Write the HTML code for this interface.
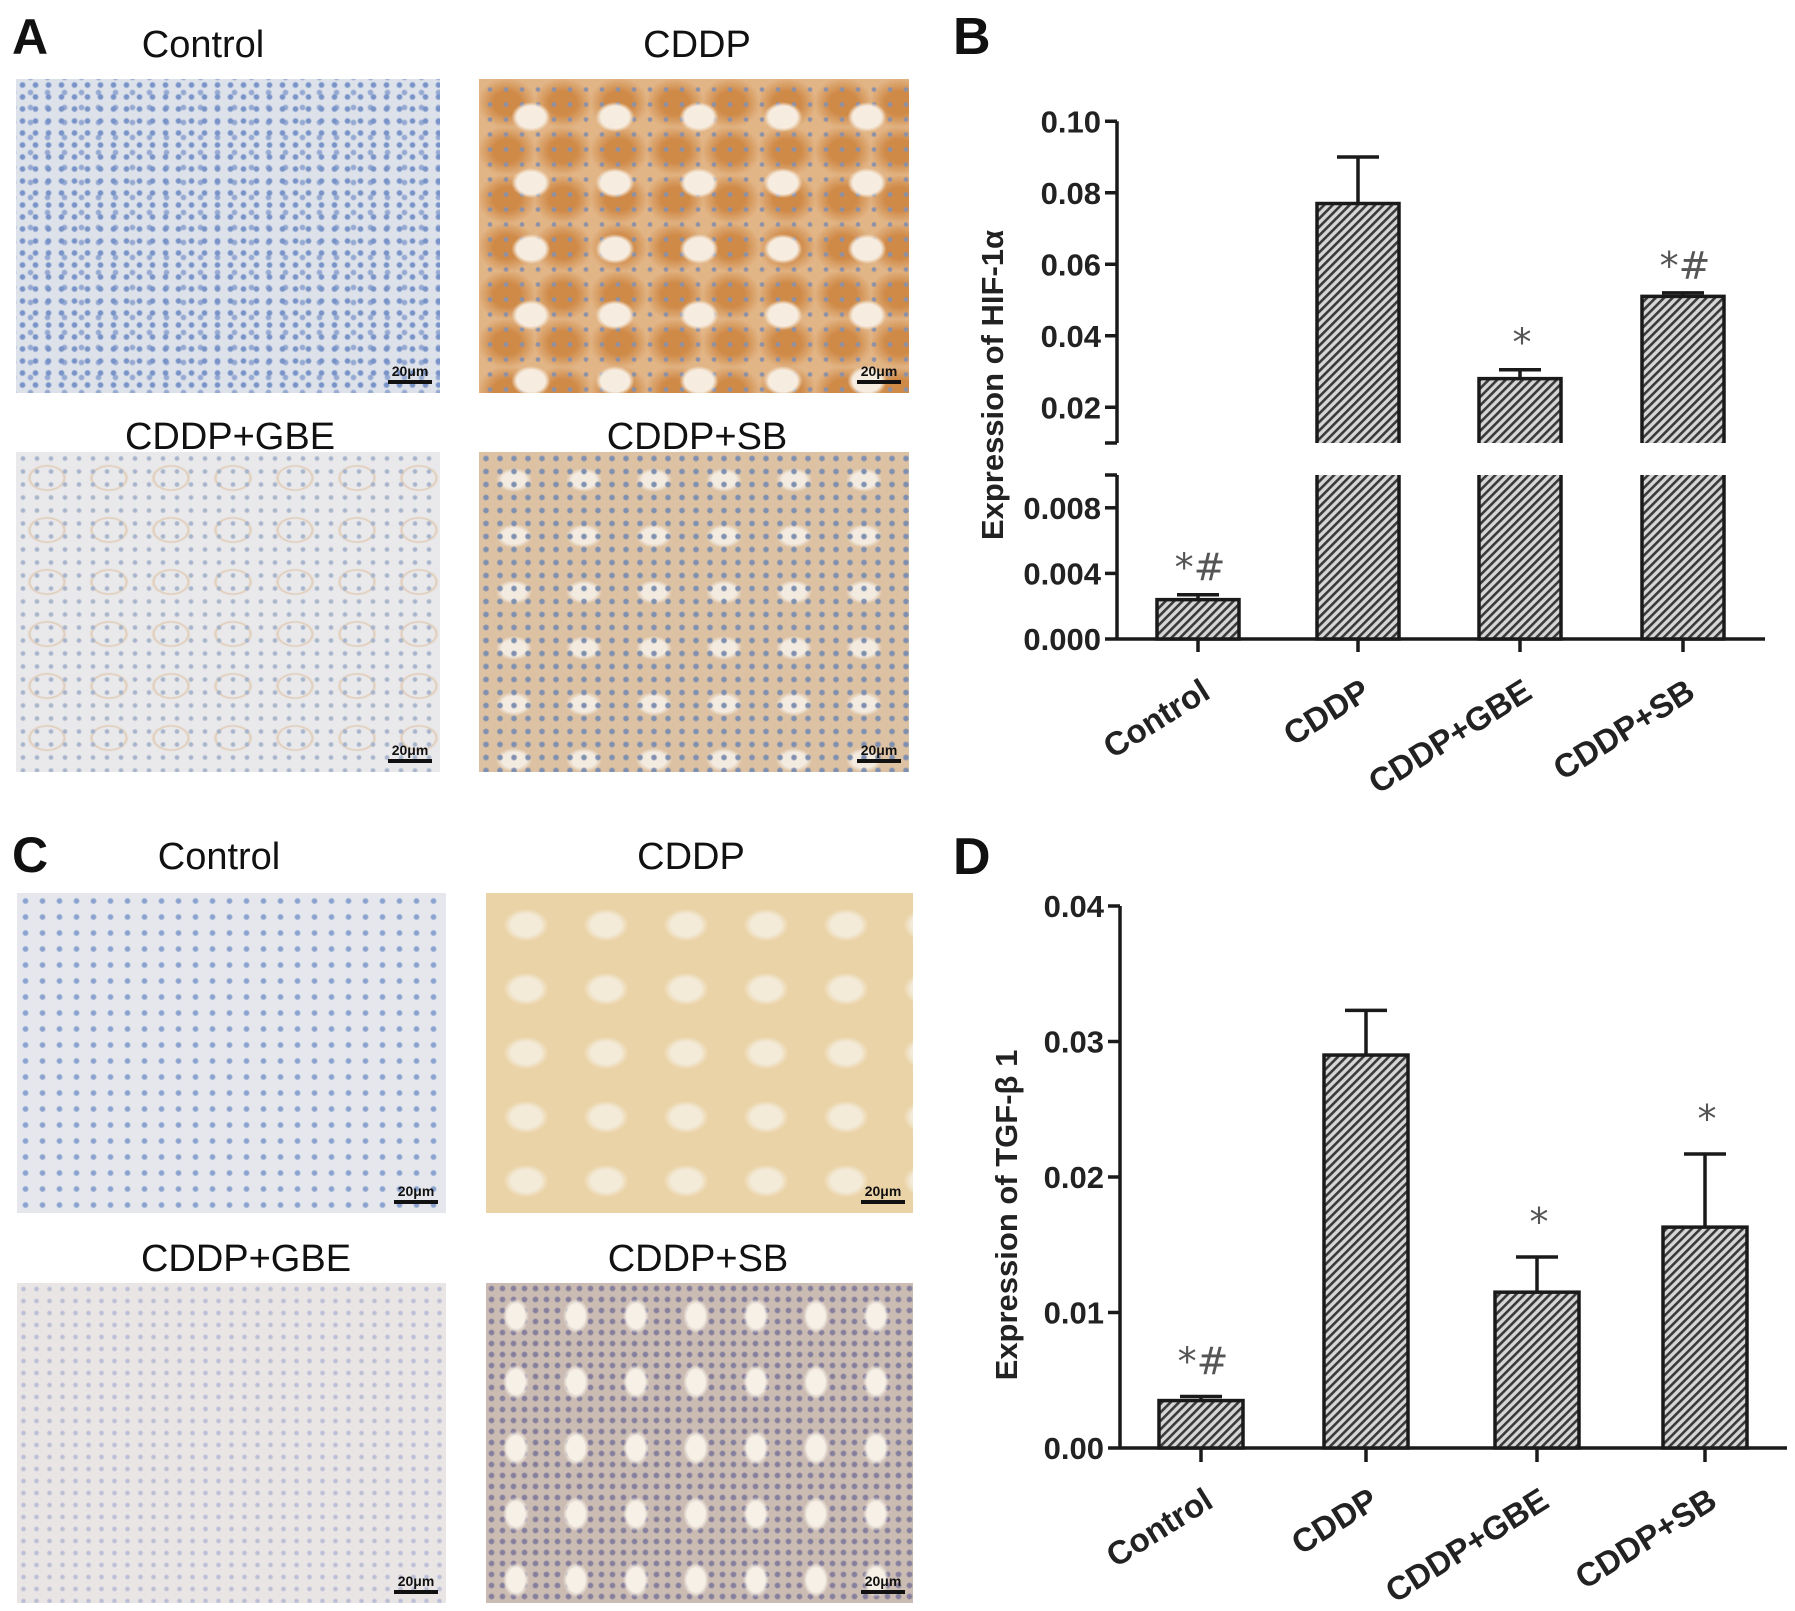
<!DOCTYPE html>
<html><head><meta charset="utf-8">
<style>
html,body{margin:0;padding:0;background:#fff;}
body{width:1795px;height:1611px;position:relative;overflow:hidden;font-family:"Liberation Sans",Arial,sans-serif;}
.lbl{position:absolute;font-weight:bold;font-size:50px;line-height:1;color:#111;}
.ttl{position:absolute;font-size:38px;line-height:1;color:#111;transform:translateX(-50%);white-space:nowrap;}
.img{position:absolute;overflow:hidden;}
.sb{position:absolute;right:8px;bottom:9px;width:44px;font-size:14px;font-weight:bold;color:#111;text-align:center;line-height:1;}
.sb:after{content:"";display:block;height:4px;background:#111;margin-top:2px;}
svg{position:absolute;left:0;top:0;}
</style></head>
<body>
<div class="lbl" style="left:12px;top:12px;">A</div>
<div class="ttl" style="left:203px;top:26px;">Control</div>
<div class="ttl" style="left:697px;top:26px;">CDDP</div>
<div class="ttl" style="left:230px;top:418px;">CDDP+GBE</div>
<div class="ttl" style="left:697px;top:418px;">CDDP+SB</div>

<div class="img" style="left:16px;top:79px;width:424px;height:314px;background:radial-gradient(circle,#7893c8 0 2px,transparent 3.5px) 0 0/13px 12px,radial-gradient(circle,#95a9d2 0 2px,transparent 3.5px) 6px 6px/17px 15px,#dde1ea;"><div class="sb">20μm</div></div>
<div class="img" style="left:479px;top:79px;width:430px;height:314px;background:radial-gradient(ellipse 26px 20px,#f6ecdf 0 55%,transparent 75%) 10px 5px/84px 66px,radial-gradient(circle,#8a90a8 0 1.5px,transparent 3px) 3px 3px/16px 15px,radial-gradient(ellipse,#cf8a48 0 35%,#e2b586 75%) 0 0/56px 48px,#dba574;"><div class="sb">20μm</div></div>
<div class="img" style="left:16px;top:452px;width:424px;height:320px;background:radial-gradient(circle,#a6b4cc 0 1.5px,transparent 3px) 0 0/14px 13px,radial-gradient(ellipse 26px 18px,transparent 0 60%,#e0cbb5 66%,transparent 76%) 0 0/62px 52px,#e9e8ea;"><div class="sb">20μm</div></div>
<div class="img" style="left:479px;top:452px;width:430px;height:320px;background:radial-gradient(circle,#7e8fb0 0 2px,transparent 3.5px) 0 0/14px 13px,radial-gradient(ellipse 24px 16px,#f3ebe0 0 50%,transparent 75%) 0 0/70px 56px,#dcc1a3;"><div class="sb">20μm</div></div>

<div class="lbl" style="left:12px;top:830px;">C</div>
<div class="ttl" style="left:219px;top:838px;">Control</div>
<div class="ttl" style="left:691px;top:838px;">CDDP</div>
<div class="ttl" style="left:246px;top:1240px;">CDDP+GBE</div>
<div class="ttl" style="left:698px;top:1240px;">CDDP+SB</div>

<div class="img" style="left:17px;top:893px;width:429px;height:320px;background:radial-gradient(circle,#8aa2cf 0 2px,transparent 3.5px) 0 0/17px 16px,#e5e7ec;"><div class="sb">20μm</div></div>
<div class="img" style="left:486px;top:893px;width:427px;height:320px;background:radial-gradient(ellipse 30px 22px,#f3ead8 0 50%,transparent 75%) 0 0/80px 64px,#ead3a6;"><div class="sb">20μm</div></div>
<div class="img" style="left:17px;top:1283px;width:429px;height:320px;background:radial-gradient(circle,#bcbed6 0 1.5px,transparent 3px) 0 0/13px 12px,#e8e5e4;"><div class="sb">20μm</div></div>
<div class="img" style="left:486px;top:1283px;width:427px;height:320px;background:radial-gradient(ellipse 18px 24px,#f6f0e6 0 50%,transparent 72%) 0 0/60px 66px,radial-gradient(circle,#857e9c 0 2px,transparent 3.5px) 0 0/11px 11px,#cbbcb3;"><div class="sb">20μm</div></div>

<div class="lbl" style="left:953px;top:11px;font-size:52px;">B</div>
<div class="lbl" style="left:953px;top:831px;font-size:52px;">D</div>

<svg id="chart" width="1795" height="1611" viewBox="0 0 1795 1611">
<defs>
<pattern id="hatch" patternUnits="userSpaceOnUse" width="6" height="6" patternTransform="rotate(45)">
<rect width="6" height="6" fill="#d6d6d6"/><rect width="2.6" height="6" fill="#3a3a3a"/>
</pattern>
</defs>
</svg>
<script>
const categories = ["Control","CDDP","CDDP+GBE","CDDP+SB"];
const hifValues = [0.0024, 0.077, 0.028, 0.051];
const hifErrors = [0.0003, 0.013, 0.0025, 0.001];
const hifMarks = ["*#", "", "*", "*#"];
const hifUpperTicks = ["0.02","0.04","0.06","0.08","0.10"];
const hifLowerTicks = ["0.000","0.004","0.008"];
const tgfValues = [0.0035, 0.029, 0.0115, 0.0163];
const tgfErrors = [0.0003, 0.0033, 0.0026, 0.0054];
const tgfMarks = ["*#", "", "*", "*"];
const tgfTicks = ["0.00","0.01","0.02","0.03","0.04"];

const svg = document.getElementById('chart');
const NS = 'http://www.w3.org/2000/svg';
function mk(tag, attrs, parent){const e=document.createElementNS(NS,tag);for(const k in attrs)e.setAttribute(k,attrs[k]);(parent||svg).appendChild(e);return e;}
const TICKFS = 31, XFS = 33, TITLEFS = 31;

// ---------- Chart B (broken axis) ----------
const bAxisX = 1117, bBase = 639, bEnd = 1765;
const bCenters = [1198, 1358, 1520, 1683], bW = 82;
function yLowB(v){ return bBase - v*16400; }
function yUpB(v){ return 443 - (v-0.01)*3575; }
function yB(v){ return v <= 0.01 ? yLowB(v) : yUpB(v); }
const gB = mk('g',{});


let ax = mk('path',{d:`M${bAxisX} ${yUpB(0.10)} V443 M${bAxisX} 475 V${bBase} M${bAxisX-12} 443 H${bAxisX} M${bAxisX-12} 475 H${bAxisX}`,stroke:'#1a1a1a','stroke-width':3.5,fill:'none'},gB);


let xa = mk('line',{x1:bAxisX,y1:bBase,x2:bEnd,y2:bBase,stroke:'#1a1a1a','stroke-width':3.5},gB);


hifUpperTicks.forEach(t=>{const y=yUpB(parseFloat(t));
  mk('line',{x1:bAxisX-12,y1:y,x2:bAxisX,y2:y,stroke:'#1a1a1a','stroke-width':3.5},gB);
  const tx=mk('text',{x:bAxisX-16,y:y+11,'text-anchor':'end','font-size':TICKFS,'font-weight':'bold',fill:'#222'},gB);tx.textContent=t;
  
  });
hifLowerTicks.forEach(t=>{const y=yLowB(parseFloat(t));
  mk('line',{x1:bAxisX-12,y1:y,x2:bAxisX,y2:y,stroke:'#1a1a1a','stroke-width':3.5},gB);
  const tx=mk('text',{x:bAxisX-16,y:y+11,'text-anchor':'end','font-size':TICKFS,'font-weight':'bold',fill:'#222'},gB);tx.textContent=t;
  
  });
categories.forEach((c,i)=>{
  const cx=bCenters[i], v=hifValues[i], e=hifErrors[i];
  const top=v+e;
  const eb=mk('path',{d:`M${cx} ${yB(v)} V${yB(top)} M${cx-21} ${yB(top)} H${cx+21}`,stroke:'#1a1a1a','stroke-width':3.5,fill:'none'},gB);
  
  
  if(v<=0.01){
    const r=mk('rect',{x:cx-bW/2,y:yLowB(v),width:bW,height:bBase-yLowB(v),fill:'url(#hatch)',stroke:'#1a1a1a','stroke-width':3.5},gB);
    
    
  } else {
    const r1=mk('rect',{x:cx-bW/2,y:475,width:bW,height:bBase-475,fill:'url(#hatch)'},gB);
    
    
    mk('path',{d:`M${cx-bW/2} 475 V${bBase} H${cx+bW/2} V475`,stroke:'#1a1a1a','stroke-width':3.5,fill:'none'},gB);
    const r2=mk('rect',{x:cx-bW/2,y:yUpB(v),width:bW,height:443-yUpB(v),fill:'url(#hatch)'},gB);
    
    
    mk('path',{d:`M${cx-bW/2} 443 V${yUpB(v)} H${cx+bW/2} V443`,stroke:'#1a1a1a','stroke-width':3.5,fill:'none'},gB);
  }
  mk('line',{x1:cx,y1:bBase,x2:cx,y2:bBase+13,stroke:'#1a1a1a','stroke-width':3.5},gB);
  if(hifMarks[i]){const m=mk('text',{x:cx+2,y:yB(top)-14,'text-anchor':'middle','font-size':38,fill:'#555','font-family':'"DejaVu Sans",sans-serif'},gB);m.textContent=hifMarks[i];
    
    }
  const lx=cx+14, ly=bBase+58;
  const t=mk('text',{x:lx,y:ly,'text-anchor':'end','font-size':XFS,'font-weight':'bold',fill:'#222',transform:`rotate(-32 ${lx} ${ly})`},gB);t.textContent=c;
  
  
});
const tB=mk('text',{x:1003,y:385,'text-anchor':'middle','font-size':TITLEFS,'font-weight':'bold',fill:'#222',transform:'rotate(-90 1003 385)'},gB);tB.textContent='Expression of HIF-1α';



// ---------- Chart D ----------
const dAxisX = 1120, dBase = 1448, dEnd = 1787;
const dCenters = [1201, 1366, 1537, 1705], dW = 84;
function yD(v){ return dBase - v*13550; }
const gD = mk('g',{});


let ay=mk('line',{x1:dAxisX,y1:yD(0.04),x2:dAxisX,y2:dBase,stroke:'#1a1a1a','stroke-width':3.5},gD);


let ax2=mk('line',{x1:dAxisX,y1:dBase,x2:dEnd,y2:dBase,stroke:'#1a1a1a','stroke-width':3.5},gD);


tgfTicks.forEach(t=>{const y=yD(parseFloat(t));
  mk('line',{x1:dAxisX-12,y1:y,x2:dAxisX,y2:y,stroke:'#1a1a1a','stroke-width':3.5},gD);
  const tx=mk('text',{x:dAxisX-16,y:y+11,'text-anchor':'end','font-size':TICKFS,'font-weight':'bold',fill:'#222'},gD);tx.textContent=t;
  
  });
categories.forEach((c,i)=>{
  const cx=dCenters[i], v=tgfValues[i], e=tgfErrors[i], top=v+e;
  const eb=mk('path',{d:`M${cx} ${yD(v)} V${yD(top)} M${cx-21} ${yD(top)} H${cx+21}`,stroke:'#1a1a1a','stroke-width':3.5,fill:'none'},gD);
  
  
  const r=mk('rect',{x:cx-dW/2,y:yD(v),width:dW,height:dBase-yD(v),fill:'url(#hatch)',stroke:'#1a1a1a','stroke-width':3.5},gD);
  
  
  mk('line',{x1:cx,y1:dBase,x2:cx,y2:dBase+14,stroke:'#1a1a1a','stroke-width':3.5},gD);
  if(tgfMarks[i]){const m=mk('text',{x:cx+2,y:yD(top)-22,'text-anchor':'middle','font-size':38,fill:'#555','font-family':'"DejaVu Sans",sans-serif'},gD);m.textContent=tgfMarks[i];
    
    }
  const lx=cx+14, ly=dBase+58;
  const t=mk('text',{x:lx,y:ly,'text-anchor':'end','font-size':XFS,'font-weight':'bold',fill:'#222',transform:`rotate(-32 ${lx} ${ly})`},gD);t.textContent=c;
  
  
});
const tD=mk('text',{x:1017,y:1215,'text-anchor':'middle','font-size':TITLEFS,'font-weight':'bold',fill:'#222',transform:'rotate(-90 1017 1215)'},gD);tD.textContent='Expression of TGF-β 1';


</script>
</body></html>
